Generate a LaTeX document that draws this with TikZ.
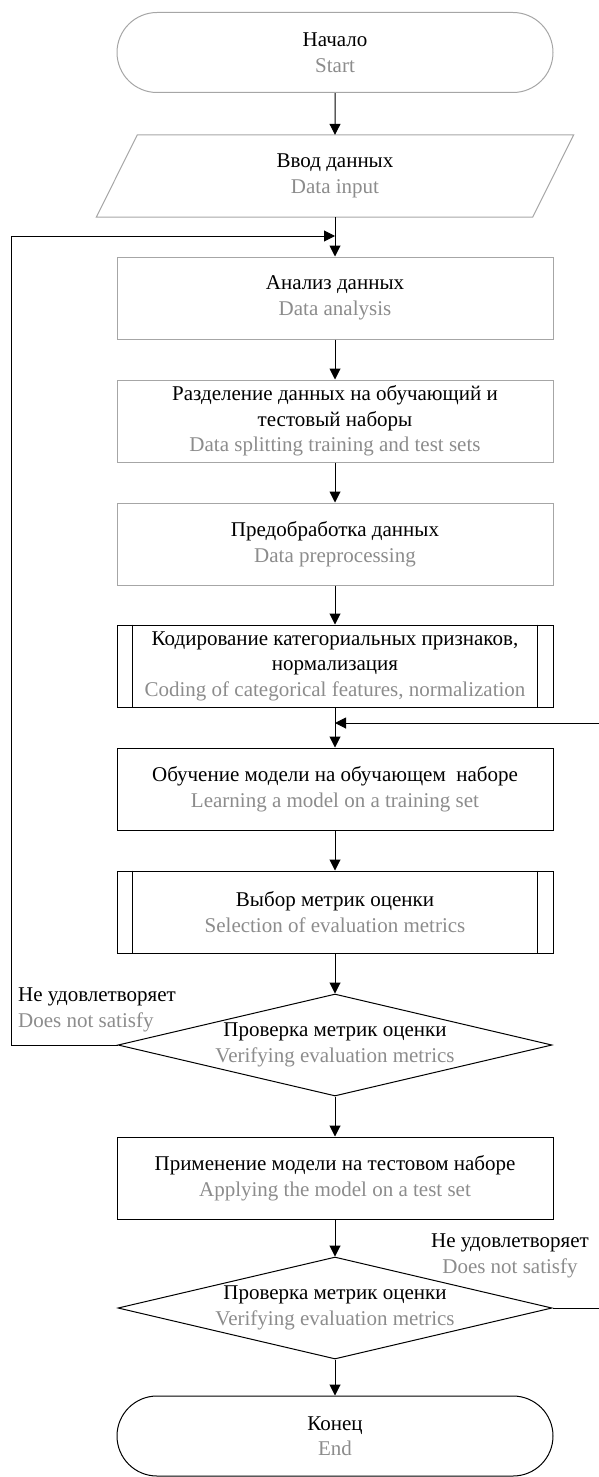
\documentclass[tikz,border=0pt]{standalone}
\usepackage{fontspec}
\setmainfont{Liberation Serif}
\usetikzlibrary{arrows.meta, shapes.geometric, shapes.misc, calc}
\definecolor{engtext}{HTML}{8C8C8C}
\definecolor{lightedge}{HTML}{A6A6A6}
\newcommand{\eng}[1]{\textcolor{engtext}{#1}}

\begin{document}
\begin{tikzpicture}[x=1pt, y=-1pt,
  every node/.style={font=\fontsize{21}{25.5}\selectfont, align=center, inner sep=0pt},
  term/.style={rounded rectangle, draw, line width=1pt, minimum width=436pt, minimum height=80pt},
  procbox/.style={rectangle, draw, line width=1pt, minimum width=436pt, minimum height=82pt},
  decision/.style={diamond, draw, line width=1pt, minimum width=434pt, minimum height=102pt},
  soft/.style={draw=lightedge},
  flow/.style={-{Triangle[length=11pt,width=11pt]}, line width=1pt}
]
  \useasboundingbox (0,0) rectangle (599,1477);
  % Start and input
  \node[term, soft] (start) at (335,52.5) {Начало\\\eng{Start}};
  \node[minimum width=436pt, minimum height=82pt] (input) at (335,176) {Ввод данных\\\eng{Data input}};
  \draw[soft, line width=1pt] ([xshift=20.5pt]input.north west) -- ([xshift=20.5pt]input.north east)
    -- ([xshift=-20.5pt]input.south east) -- ([xshift=-20.5pt]input.south west) -- cycle;
  % Preparation steps
  \node[procbox, soft] (analysis) at (335,298) {Анализ данных\\\eng{Data analysis}};
  \node[procbox, soft] (split) at (335,421) {Разделение данных на обучающий и\\тестовый наборы\\\eng{Data splitting training and test sets}};
  \node[procbox, soft] (preproc) at (335,544) {Предобработка данных\\\eng{Data preprocessing}};
  \node[procbox] (coding) at (335,666) {Кодирование категориальных признаков,\\нормализация\\\eng{Coding of categorical features, normalization}};
  \draw[line width=1pt] ([xshift=16pt]coding.north west) -- ([xshift=16pt]coding.south west);
  \draw[line width=1pt] ([xshift=-16pt]coding.north east) -- ([xshift=-16pt]coding.south east);
  % Training and metrics
  \node[procbox] (learning) at (335,789) {Обучение модели на обучающем~ наборе\\\eng{Learning a model on a training set}};
  \node[procbox] (select) at (335,912) {Выбор метрик оценки\\\eng{Selection of evaluation metrics}};
  \draw[line width=1pt] ([xshift=16pt]select.north west) -- ([xshift=16pt]select.south west);
  \draw[line width=1pt] ([xshift=-16pt]select.north east) -- ([xshift=-16pt]select.south east);
  \node[decision] (check1) at (335,1045) {};
  \node (check1text) at (335,1045) {Проверка метрик оценки\\\eng{Verifying evaluation metrics}};
  % Test and end
  \node[procbox] (apply) at (335,1178) {Применение модели на тестовом наборе\\\eng{Applying the model on a test set}};
  \node[decision] (check2) at (335,1308) {};
  \node (check2text) at (335,1308) {Проверка метрик оценки\\\eng{Verifying evaluation metrics}};
  \node[term] (finish) at (335,1436) {Конец\\\eng{End}};
  % Branch labels
  \node[anchor=west, align=left] (nosat1) at (18,1010) {Не удовлетворяет\\\eng{Does not satisfy}};
  \node (nosat2) at (510,1256) {Не удовлетворяет\\\eng{Does not satisfy}};
  % Joins
  \coordinate (join1) at (335,236);
  \coordinate (join2) at (335,723);
  \coordinate (loopL) at (11,236);
  \coordinate (loopR) at (600,723);
  % Arrows
  \draw[flow] (start) -- (input);
  \draw[flow] (input) -- (analysis);
  \draw[flow] (analysis) -- (split);
  \draw[flow] (split) -- (preproc);
  \draw[flow] (preproc) -- (coding);
  \draw[flow] (coding) -- (learning);
  \draw[flow] (learning) -- (select);
  \draw[flow] (select) -- (check1);
  \draw[flow] (check1) -- (apply);
  \draw[flow] (apply) -- (check2);
  \draw[flow] (check2) -- (finish);
  \draw[flow] (check1.west) -| (loopL) -- (join1);
  \draw[flow] (check2.east) -| (loopR) -- (join2);
\end{tikzpicture}
\end{document}
